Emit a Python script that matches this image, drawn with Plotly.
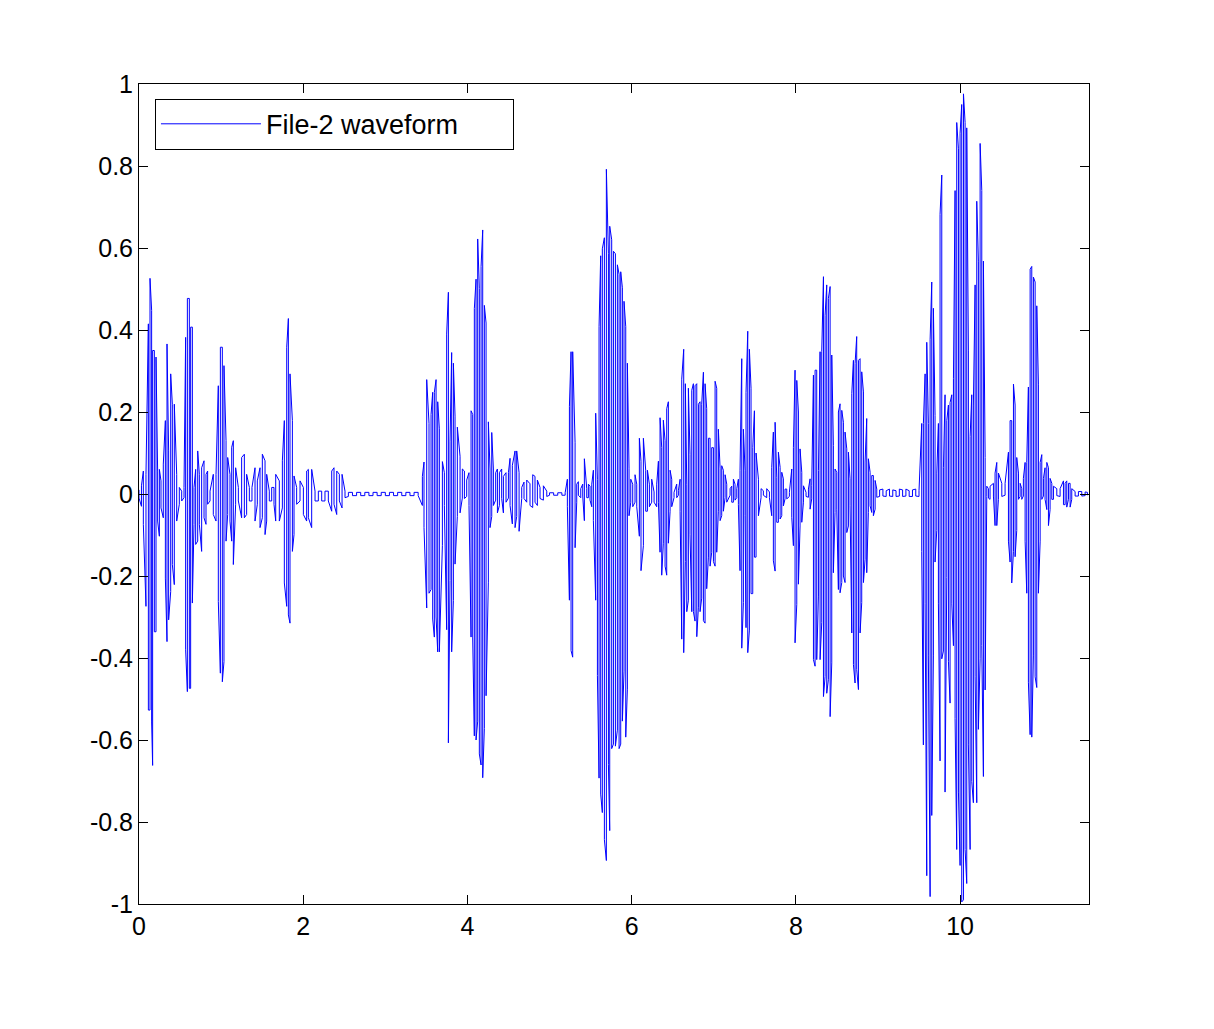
import plotly.graph_objects as go

# ---- waveform data: each entry is one oscillation stroke (time s, positive peak, negative peak) ----
t_a = [0.000,0.030,0.053,0.085,0.114,0.134,0.154,0.166,0.187,0.207,0.227,0.248,0.268,0.296,0.321,0.341,0.361,0.386,0.406,0.430,
       0.459,0.491,0.520,0.548,0.568,0.589,0.613,0.629,0.650,0.670,0.690,0.715,0.735,0.763,0.792,0.816,0.836,0.865,0.905,0.938,
       0.966,0.991,1.015,1.035,1.060,1.080,1.108,1.129,1.149,1.177,1.210,1.250,1.283,1.311,1.344,1.376,1.413,1.441,1.474,1.502,
       1.535,1.555,1.587,1.616,1.644,1.665,1.709,1.746,1.770,1.799,1.819,1.839,1.868,1.888,1.920,1.961,2.002,2.042,2.063,2.103,
       2.144,2.184,2.225,2.265,2.306,2.347,2.375,2.408,2.440,2.473,2.509,2.550]
top_a = [0.010,0.020,0.056,0.048,0.415,0.526,0.448,0.350,0.350,0.334,0.056,0.060,0.032,0.073,0.179,0.366,0.105,0.293,0.219,0.219,
         0.048,0.016,0.007,0.016,0.382,0.477,0.477,0.407,0.407,0.016,0.060,0.105,0.048,0.064,0.081,0.048,0.056,0.007,0.048,0.048,
         0.264,0.358,0.358,0.313,0.130,0.089,0.048,0.114,0.130,0.064,0.016,0.089,0.097,0.048,0.016,0.016,0.064,0.032,0.064,0.097,
         0.081,0.048,0.007,0.016,0.016,0.048,0.032,0.081,0.179,0.358,0.428,0.293,0.179,0.044,0.016,0.032,0.016,0.056,0.060,0.060,
         0.007,0.007,0.007,0.007,0.007,0.056,0.064,0.056,0.048,0.048,0.007,0.004]
bot_a = [-0.010,-0.030,-0.074,-0.274,-0.527,-0.527,-0.556,-0.662,-0.336,-0.336,-0.066,-0.103,-0.034,-0.058,-0.205,-0.360,-0.307,-0.238,-0.172,-0.221,
         -0.066,-0.025,-0.017,-0.009,-0.380,-0.482,-0.474,-0.474,-0.266,-0.074,-0.123,-0.115,-0.074,-0.140,-0.058,-0.074,-0.025,-0.017,-0.050,-0.066,
         -0.262,-0.437,-0.458,-0.409,-0.115,-0.050,-0.066,-0.115,-0.172,-0.025,-0.017,-0.058,-0.058,-0.050,-0.017,-0.017,-0.066,-0.025,-0.082,-0.058,
         -0.099,-0.066,-0.017,-0.017,-0.025,-0.066,-0.066,-0.034,-0.217,-0.274,-0.295,-0.315,-0.140,-0.099,-0.025,-0.017,-0.050,-0.066,-0.058,-0.082,
         -0.017,-0.017,-0.017,-0.017,-0.017,-0.042,-0.025,-0.050,-0.017,-0.034,-0.009,-0.006]

t_gap1 = [2.60,2.65,2.70,2.75,2.80,2.85,2.90,2.95,3.00,3.05,3.10,3.15,3.20,3.25,3.30,3.35,3.40]
top_gap1 = [0.004,0.004,0.004,0.004,0.004,0.004,0.004,0.004,0.004,0.004,0.004,0.004,0.004,0.004,0.004,0.004,0.004]
bot_gap1 = [-0.004,-0.004,-0.004,-0.004,-0.004,-0.004,-0.004,-0.004,-0.004,-0.004,-0.004,-0.004,-0.004,-0.004,-0.004,-0.004,-0.004]

t_b = [3.451,3.471,3.504,3.532,3.557,3.577,3.597,3.618,3.638,3.658,3.695,3.719,3.747,3.768,3.788,3.808,3.829,3.849,3.877,3.910,
       3.938,3.963,3.991,4.019,4.044,4.064,4.084,4.105,4.125,4.145,4.166,4.186,4.206,4.227,4.255,4.275,4.296,4.316,4.344,4.365,
       4.389,4.417,4.438,4.470,4.499,4.519,4.547,4.580,4.600,4.629,4.661,4.689,4.722,4.762,4.795,4.823,4.852,4.884,4.925,4.966,
       5.000,5.050,5.100,5.150,5.190]
top_b = [0.043,0.078,0.279,0.172,0.194,0.248,0.248,0.279,0.225,0.159,0.079,0.052,0.390,0.492,0.127,0.345,0.319,0.190,0.163,0.092,
         0.061,0.056,0.034,0.052,0.203,0.194,0.452,0.524,0.622,0.501,0.555,0.644,0.460,0.417,0.176,0.061,0.150,0.061,0.052,0.061,
         0.052,0.061,0.043,0.052,0.052,0.087,0.070,0.105,0.105,0.052,0.016,0.029,0.034,0.025,0.047,0.043,0.034,0.016,0.020,0.007,
         0.003,0.003,0.003,0.003,0.003]
bot_b = [-0.028,-0.082,-0.278,-0.242,-0.233,-0.305,-0.349,-0.300,-0.385,-0.385,-0.126,-0.028,-0.331,-0.607,-0.211,-0.385,-0.260,-0.171,-0.055,-0.046,
         -0.010,-0.011,-0.006,-0.028,-0.349,-0.349,-0.590,-0.600,-0.554,-0.634,-0.661,-0.692,-0.572,-0.492,-0.215,-0.082,-0.055,-0.028,-0.015,-0.046,
         -0.028,-0.011,-0.046,-0.020,-0.010,-0.028,-0.073,-0.082,-0.055,-0.091,-0.011,-0.011,-0.020,-0.028,-0.033,-0.020,-0.028,-0.011,-0.015,-0.006,
         -0.003,-0.003,-0.003,-0.003,-0.003]

t_c = [5.217,5.242,5.262,5.282,5.311,5.331,5.351,5.380,5.404,5.424,5.453,5.473,5.493,5.514,5.534,5.562,5.583,5.603,5.623,5.643,
       5.668,5.692,5.717,5.733,5.757,5.778,5.802,5.826,5.847,5.867,5.887,5.907,5.928,5.948,5.968,5.989,6.013,6.041,6.062,6.094,
       6.114,6.143,6.171,6.192,6.216,6.244,6.273,6.305,6.326,6.346,6.366,6.386,6.407,6.427,6.447,6.468,6.488,6.516,6.549,6.569,
       6.590,6.610,6.634,6.654,6.671,6.691,6.711,6.732,6.752,6.772,6.793,6.813,6.833,6.853,6.874,6.894,6.914,6.935,6.955,6.975,
       6.996,7.016,7.036,7.056,7.077,7.097,7.117,7.138,7.158,7.199,7.219,7.239,7.259,7.280,7.300,7.320,7.341,7.361,7.381,7.393,
       7.414,7.434,7.454,7.475,7.495,7.515,7.544,7.576,7.604,7.645,7.678]
top_c = [0.036,0.214,0.347,0.347,0.125,0.024,0.030,0.013,0.024,0.086,0.013,0.024,0.019,0.024,0.058,0.197,0.036,0.408,0.581,0.598,
         0.625,0.792,0.586,0.653,0.620,0.592,0.586,0.559,0.536,0.542,0.503,0.470,0.408,0.319,0.063,0.036,0.024,0.047,0.024,0.136,
         0.080,0.136,0.058,0.058,0.024,0.036,0.005,0.024,0.080,0.186,0.113,0.180,0.130,0.208,0.225,0.058,0.036,0.004,0.024,0.008,
         0.036,0.280,0.353,0.269,0.024,0.258,0.097,0.253,0.269,0.264,0.269,0.219,0.225,0.219,0.297,0.269,0.208,0.136,0.136,0.113,
         0.113,0.275,0.258,0.158,0.063,0.069,0.058,0.047,0.024,0.013,0.019,0.036,0.024,0.013,0.036,0.058,0.330,0.158,0.058,0.247,
         0.397,0.353,0.258,0.113,0.203,0.100,0.036,0.013,0.008,0.013,0.005]
bot_c = [-0.031,-0.259,-0.382,-0.398,-0.131,-0.020,-0.003,-0.009,-0.005,-0.065,-0.009,-0.009,-0.015,-0.031,-0.065,-0.259,-0.443,-0.693,-0.732,-0.777,
         -0.843,-0.894,-0.660,-0.821,-0.621,-0.610,-0.615,-0.576,-0.621,-0.610,-0.554,-0.432,-0.593,-0.476,-0.053,-0.020,-0.031,-0.020,-0.031,-0.103,
         -0.187,-0.126,-0.042,-0.042,-0.031,-0.020,-0.020,-0.031,-0.020,-0.142,-0.198,-0.120,-0.176,-0.198,-0.120,-0.042,-0.031,-0.009,-0.009,-0.003,
         -0.042,-0.354,-0.387,-0.165,-0.287,-0.259,-0.098,-0.287,-0.287,-0.310,-0.348,-0.276,-0.287,-0.254,-0.309,-0.315,-0.231,-0.154,-0.176,-0.142,
         -0.165,-0.176,-0.142,-0.042,-0.065,-0.053,-0.042,-0.009,-0.020,-0.003,-0.020,-0.020,-0.015,-0.009,-0.026,-0.187,-0.376,-0.265,-0.053,-0.326,
         -0.387,-0.332,-0.243,-0.243,-0.154,-0.154,-0.053,-0.009,-0.003,-0.009,-0.009]

t_d = [7.706,7.726,7.747,7.767,7.787,7.808,7.828,7.848,7.868,7.889,7.921,7.950,7.970,7.990,8.011,8.031,8.051,8.072,8.092,8.124,
       8.153,8.173,8.193,8.214,8.234,8.254,8.275,8.295,8.315,8.336,8.356,8.376,8.396,8.417,8.437,8.457,8.477,8.498,8.518,8.538,
       8.559,8.579,8.599,8.620,8.640,8.660,8.681,8.701,8.721,8.741,8.762,8.782,8.802,8.823,8.843,8.863,8.883,8.904,8.924,8.944,
       8.965,8.985,9.020,9.060,9.100,9.140,9.180,9.220,9.260,9.300,9.340,9.380,9.420,9.460,9.500]
top_d = [0.065,0.151,0.175,0.041,0.102,0.065,0.053,0.037,0.012,0.012,0.004,0.061,0.114,0.302,0.277,0.200,0.110,0.053,0.020,0.004,
         0.012,0.037,0.020,0.290,0.302,0.302,0.057,0.347,0.347,0.530,0.436,0.510,0.477,0.506,0.339,0.118,0.061,0.053,0.200,0.220,
         0.204,0.175,0.151,0.110,0.102,0.037,0.245,0.326,0.318,0.384,0.326,0.330,0.298,0.249,0.078,0.184,0.086,0.053,0.045,0.045,
         0.033,0.012,0.010,0.012,0.008,0.012,0.010,0.008,0.012,0.010,0.012,0.008,0.010,0.012,0.008]
bot_d = [-0.053,-0.163,-0.188,-0.069,-0.069,-0.061,-0.053,-0.029,-0.012,-0.012,-0.006,-0.057,-0.126,-0.363,-0.269,-0.220,-0.078,-0.069,-0.020,-0.006,
         -0.008,-0.037,-0.012,-0.404,-0.420,-0.404,-0.249,-0.404,-0.314,-0.494,-0.445,-0.486,-0.453,-0.543,-0.412,-0.192,-0.045,-0.037,-0.233,-0.241,
         -0.216,-0.200,-0.216,-0.094,-0.078,-0.029,-0.339,-0.416,-0.461,-0.428,-0.477,-0.339,-0.265,-0.216,-0.159,-0.192,-0.045,-0.029,-0.045,-0.053,
         -0.037,-0.008,-0.006,-0.005,-0.006,-0.005,-0.006,-0.006,-0.005,-0.006,-0.005,-0.006,-0.006,-0.005,-0.006]

t_e = [9.533,9.553,9.574,9.594,9.614,9.635,9.655,9.675,9.695,9.716,9.736,9.756,9.777,9.797,9.817,9.838,9.858,9.878,9.899,9.919,
       9.939,9.959,9.980,10.000,10.020,10.041,10.061,10.081,10.101,10.122,10.142,10.162,10.183,10.203,10.223,10.244,10.264,10.284,10.305,10.325,
       10.345,10.365,10.406,10.426,10.447,10.467,10.508,10.548,10.589,10.609,10.629,10.650,10.670,10.690,10.711,10.731,10.751,10.771,10.792,10.812,
       10.832,10.853,10.873,10.893,10.914,10.934,10.954,10.975,10.995,11.015,11.035,11.056,11.076,11.096,11.117,11.137,11.178,11.218,11.259,11.279,
       11.299,11.320,11.340,11.360,11.401,11.441,11.482,11.523,11.551]
top_e = [0.172,0.172,0.293,0.370,0.172,0.376,0.517,0.453,0.191,0.051,0.172,0.682,0.778,0.064,0.242,0.179,0.217,0.223,0.242,0.281,
         0.740,0.906,0.842,0.880,0.950,0.976,0.906,0.893,0.351,0.140,0.242,0.217,0.510,0.714,0.568,0.855,0.740,0.568,0.089,0.019,
         0.013,0.019,0.026,0.051,0.077,0.051,0.026,0.026,0.102,0.179,0.179,0.268,0.217,0.089,0.051,0.026,0.013,0.038,0.077,0.077,
         0.261,0.548,0.555,0.529,0.517,0.459,0.268,0.077,0.096,0.038,0.064,0.077,0.064,0.038,0.026,0.019,0.013,0.013,0.032,0.026,
         0.032,0.026,0.026,0.013,0.006,0.006,0.006,0.005,0.004]
bot_e = [-0.140,-0.612,-0.268,-0.931,-0.395,-0.982,-0.784,-0.395,-0.166,-0.089,-0.268,-0.651,-0.402,-0.383,-0.727,-0.204,-0.408,-0.510,-0.268,-0.370,
         -0.548,-0.867,-0.727,-0.906,-0.995,-0.990,-0.867,-0.950,-0.612,-0.867,-0.701,-0.753,-0.446,-0.753,-0.574,-0.402,-0.370,-0.689,-0.478,-0.006,
         -0.010,-0.013,-0.005,-0.077,-0.077,-0.013,-0.006,-0.003,-0.115,-0.166,-0.217,-0.140,-0.153,-0.089,-0.013,-0.006,-0.013,-0.005,-0.115,-0.242,
         -0.459,-0.587,-0.593,-0.395,-0.446,-0.472,-0.242,-0.115,-0.013,-0.005,-0.013,-0.038,-0.077,-0.038,-0.013,-0.013,-0.004,-0.006,-0.026,-0.026,
         -0.032,-0.013,-0.032,-0.013,-0.005,-0.005,-0.005,-0.004,-0.003]

x_ticks = [0, 2, 4, 6, 8, 10]
x_tick_labels = ["0", "2", "4", "6", "8", "10"]
y_ticks = [1, 0.8, 0.6, 0.4, 0.2, 0, -0.2, -0.4, -0.6, -0.8, -1]
y_tick_labels = ["1", "0.8", "0.6", "0.4", "0.2", "0", "-0.2", "-0.4", "-0.6", "-0.8", "-1"]
series_name = "File-2 waveform"

# ---- build the stroke path: each stroke goes from its positive to its negative peak ----
t_all = t_a + t_gap1 + t_b + t_c + t_d + t_e
top_all = top_a + top_gap1 + top_b + top_c + top_d + top_e
bot_all = bot_a + bot_gap1 + bot_b + bot_c + bot_d + bot_e

xs, ys = [], []
for i, (tt, hi, lo) in enumerate(zip(t_all, top_all, bot_all)):
    if i % 2 == 0:
        xs += [tt, tt]; ys += [hi, lo]
    else:
        xs += [tt, tt]; ys += [lo, hi]

fig = go.Figure()
fig.add_trace(go.Scatter(x=xs, y=ys, mode="lines", name=series_name,
                         line=dict(color="#0000FF", width=1), showlegend=True))

axis_font = dict(family="Liberation Sans, Arial, sans-serif", size=25, color="black")
fig.update_layout(
    width=1214, height=1029,
    paper_bgcolor="white", plot_bgcolor="white",
    margin=dict(l=131, r=133, t=76, b=133),
    showlegend=True,
    legend=dict(x=0.0168, y=0.982, xanchor="left", yanchor="top",
                orientation="h", entrywidth=242, entrywidthmode="pixels",
                bgcolor="white", bordercolor="black", borderwidth=1,
                font=dict(family="Liberation Sans, Arial, sans-serif", size=27, color="black"),
                itemwidth=100, tracegroupgap=0),
)
fig.update_xaxes(range=[0, 11.57], tickvals=x_ticks, ticktext=x_tick_labels,
                 showgrid=False, zeroline=False, showline=True, linecolor="black", linewidth=1,
                 mirror="ticks", ticks="inside", ticklen=9, tickcolor="black", tickwidth=1,
                 tickfont=axis_font)
fig.update_yaxes(range=[-1, 1], tickvals=y_ticks, ticktext=y_tick_labels,
                 showgrid=False, zeroline=False, showline=True, linecolor="black", linewidth=1,
                 mirror="ticks", ticks="inside", ticklen=9, tickcolor="black", tickwidth=1,
                 tickfont=axis_font)

fig.write_html("out.html")
